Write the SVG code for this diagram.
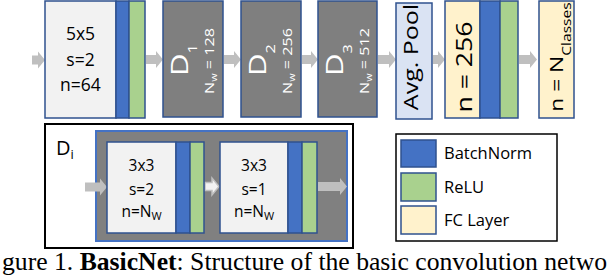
<svg xmlns="http://www.w3.org/2000/svg" width="610" height="278" viewBox="0 0 610 278">
<style>
  .conv { fill: #F2F2F2; stroke: #2F528F; stroke-width: 1.5; }
  .bn { fill: #4472C4; stroke: #2F528F; stroke-width: 1.5; }
  .relu { fill: #A9D18E; stroke: #2F528F; stroke-width: 1.5; }
  .fc { fill: #FFF2CC; stroke: #2F528F; stroke-width: 1.5; }
  .dblk { fill: #7F7F7F; stroke: #2F528F; stroke-width: 1.5; }
  .pool { fill: #DAE3F3; stroke: #2F528F; stroke-width: 1.5; }
  .arrow { fill: #BFBFBF; stroke: none; }
  .arrow-w { fill: #F2F2F2; stroke: #BFBFBF; stroke-width: 1.5; }
  text { font-family: "Open Sans", "Noto Sans", "DejaVu Sans", sans-serif; }
  .lbl { font-size: 17.5px; fill: #000; text-anchor: middle; }
  .lbl2 { font-size: 15.5px; fill: #000; text-anchor: middle; }
  .dt { fill: #FFFFFF; text-anchor: middle; }
  .rt { fill: #000; text-anchor: middle; }
  .leg { font-size: 16.5px; fill: #000; }
  .cap { font-family: "Liberation Serif", "Times New Roman", serif; font-size: 25px; fill: #000; }
</style>

<g id="connectors">
  <path class="arrow" d="M32,55.5 H38 V51.5 L45,60 L38,68.5 V64.5 H32 Z"/>
  <path class="arrow" d="M146,55 H156 V51 L163,59.5 L156,68 V64 H146 Z"/>
  <path class="arrow" d="M224,55 H234 V51 L241,59.5 L234,68 V64 H224 Z"/>
  <path class="arrow" d="M302,55 H311 V51 L318,59.5 L311,68 V64 H302 Z"/>
  <path class="arrow" d="M378,55 H389 V51 L396,59.5 L389,68 V64 H378 Z"/>
  <path class="arrow" d="M433,55 H438 V51 L445,59.5 L438,68 V64 H433 Z"/>
  <path class="arrow" d="M519,55 H530 V51 L537,59.5 L530,68 V64 H519 Z"/>
</g>

<g id="conv1">
  <rect class="conv" x="45" y="1" width="71" height="117"/>
  <rect class="bn" x="116" y="1" width="13" height="117"/>
  <rect class="relu" x="129" y="1" width="16" height="117"/>
  <text class="lbl" x="80.5" y="40">5x5</text>
  <text class="lbl" x="80.5" y="66">s=2</text>
  <text class="lbl" x="80.5" y="91">n=64</text>
</g>

<g id="D1">
  <rect class="dblk" x="163" y="1" width="60" height="116"/>
  <text class="dt" font-size="23" transform="translate(188,60) rotate(-90) scale(1.35,1)">D<tspan font-size="12" dy="9">1</tspan></text>
  <text class="dt" font-size="13.5" transform="translate(214,61) rotate(-90) scale(1.2,1)">N<tspan font-size="9" dy="3">w</tspan><tspan dy="-3"> = 128</tspan></text>
</g>

<g id="D2">
  <rect class="dblk" x="241" y="1" width="60" height="116"/>
  <text class="dt" font-size="23" transform="translate(266,60) rotate(-90) scale(1.35,1)">D<tspan font-size="12" dy="9">2</tspan></text>
  <text class="dt" font-size="13.5" transform="translate(292,61) rotate(-90) scale(1.2,1)">N<tspan font-size="9" dy="3">w</tspan><tspan dy="-3"> = 256</tspan></text>
</g>

<g id="D3">
  <rect class="dblk" x="318" y="1" width="59" height="116"/>
  <text class="dt" font-size="23" transform="translate(343,60) rotate(-90) scale(1.35,1)">D<tspan font-size="12" dy="9">3</tspan></text>
  <text class="dt" font-size="13.5" transform="translate(369,61) rotate(-90) scale(1.2,1)">N<tspan font-size="9" dy="3">w</tspan><tspan dy="-3"> = 512</tspan></text>
</g>

<g id="avgpool">
  <rect class="pool" x="396" y="3" width="36" height="116"/>
  <text class="rt" font-size="20" transform="translate(418,57) rotate(-90) scale(1.25,1)">Avg. Pool</text>
</g>

<g id="fc256">
  <rect class="fc" x="445" y="1" width="35" height="117"/>
  <rect class="bn" x="480" y="1" width="20" height="117"/>
  <rect class="relu" x="500" y="1" width="18" height="117"/>
  <text class="rt" font-size="21" transform="translate(472,67) rotate(-90) scale(1.27,1)">n = 256</text>
</g>

<g id="fcout">
  <rect class="fc" x="539" y="1" width="35" height="117"/>
  <text class="rt" font-size="19" transform="translate(563,57) rotate(-90) scale(1.2,1)">n = N<tspan font-size="13" dy="8">Classes</tspan></text>
</g>

<g id="Di">
  <rect x="45" y="124" width="308" height="124" fill="#FFFFFF" stroke="#000000" stroke-width="2"/>
  <text x="56" y="155" font-size="20" fill="#000">D<tspan font-size="13" dy="4">i</tspan></text>
  <rect x="96" y="131" width="251" height="110" fill="#808080" stroke="#4472C4" stroke-width="2"/>
  <g id="Di-connectors">
    <path class="arrow" d="M85,182.5 H100 V178.5 L107,187 L100,195.5 V191.5 H85 Z"/>
    <path class="arrow-w" d="M205,182.5 H212 V178 L219,186.5 L212,195 V190.5 H205 Z"/>
    <path class="arrow" d="M318,182 H340 V178 L347,186.5 L340,195 V191 H318 Z"/>
  </g>
  <g id="conv_a">
    <rect class="conv" x="107" y="142" width="69" height="91"/>
    <rect class="bn" x="176" y="142" width="14" height="91"/>
    <rect class="relu" x="190" y="142" width="14" height="91"/>
    <text class="lbl2" x="141.5" y="171">3x3</text>
    <text class="lbl2" x="141.5" y="195">s=2</text>
    <text class="lbl2" x="141.5" y="217">n=N<tspan font-size="11" dy="3">W</tspan></text>
  </g>
  <g id="conv_b">
    <rect class="conv" x="220" y="142" width="68" height="91"/>
    <rect class="bn" x="288" y="142" width="14" height="91"/>
    <rect class="relu" x="302" y="142" width="15" height="91"/>
    <text class="lbl2" x="254" y="171">3x3</text>
    <text class="lbl2" x="254" y="195">s=1</text>
    <text class="lbl2" x="254" y="217">n=N<tspan font-size="11" dy="3">W</tspan></text>
  </g>
</g>

<g id="legend">
  <rect x="396" y="134" width="161" height="107" fill="#FFFFFF" stroke="#000000" stroke-width="1.5"/>
  <rect class="bn" x="401" y="140" width="35" height="27"/>
  <rect class="relu" x="401" y="173" width="35" height="28"/>
  <rect class="fc" x="401" y="206" width="35" height="28"/>
  <text class="leg" x="444" y="159">BatchNorm</text>
  <text class="leg" x="444" y="193">ReLU</text>
  <text class="leg" x="444" y="226">FC Layer</text>
</g>

<text class="cap" x="2" y="270" textLength="605" lengthAdjust="spacingAndGlyphs">gure 1. <tspan font-weight="bold">BasicNet</tspan>:  Structure of the basic convolution netwo</text>
</svg>
